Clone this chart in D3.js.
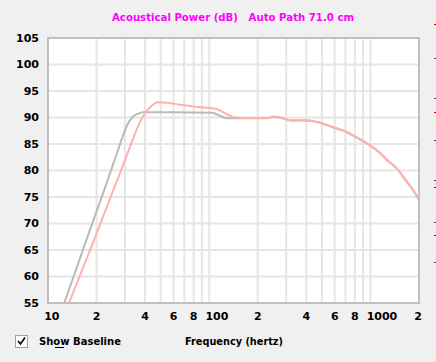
<!DOCTYPE html>
<html>
<head>
<meta charset="utf-8">
<script src="https://cdn.jsdelivr.net/npm/d3@7"></script>
<style>
  body { margin: 0; background: #f0f0f0; }
  svg { display: block; }
  text { font-family: "DejaVu Sans", sans-serif; font-weight: bold; font-size: 11px; }
</style>
</head>
<body>
<svg id="chart" width="436" height="362"></svg>
<script>
// measured curve (pink)
const powerFreq = [13.5, 15, 20, 25.4, 28.4, 32.3, 36, 40, 44, 48, 55, 66, 84, 108, 120, 131, 144, 180, 229, 249, 280, 320, 405, 480, 560, 700, 850, 993, 1130, 1268, 1460, 1680, 1850, 2000];
const powerDb   = [55, 58.5, 68.1, 76.3, 80, 84.5, 88.2, 90.8, 92.2, 92.9, 92.8, 92.4, 92.0, 91.7, 91.1, 90.5, 90.0, 89.9, 89.9, 90.2, 90.0, 89.5, 89.5, 89.1, 88.4, 87.4, 86.0, 84.8, 83.5, 82.0, 80.4, 77.9, 76.2, 74.5];

// baseline curve (gray)
const baseFreq = [12.6, 15, 20, 22.3, 24.6, 28, 30.7, 33.2, 36, 39, 60, 104, 113, 129, 160, 229, 249, 280, 320, 405, 480, 560, 700, 850, 993, 1130, 1268, 1460, 1680, 1850, 2000];
const baseDb   = [55, 61.5, 72.3, 76.3, 80, 85, 88.3, 90, 90.7, 91, 91, 90.9, 90.5, 89.85, 89.85, 89.85, 90.1, 89.9, 89.45, 89.45, 89.05, 88.35, 87.35, 85.95, 84.75, 83.45, 81.95, 80.35, 77.85, 76.15, 74.45];

const yTicks = [55, 60, 65, 70, 75, 80, 85, 90, 95, 100, 105];
const xGrid = [20, 30, 40, 50, 60, 70, 80, 90, 100, 200, 300, 400, 500, 600, 700, 800, 900, 1000];
const xLabels = [[10, "10"], [20, "2"], [40, "4"], [60, "6"], [80, "8"], [100, "100"], [200, "2"], [400, "4"], [600, "6"], [800, "8"], [1000, "1000"], [2000, "2"]];

const svg = d3.select('#chart');
const pLeft = 48, pRight = 419, pTop = 38, pBottom = 303;

const x = d3.scaleLog().domain([10, 2000]).range([pLeft, pRight]);
const y = d3.scaleLinear().domain([55, 105]).range([pBottom, pTop]);

// title
svg.append('text')
  .attr('x', 112).attr('y', 21)
  .attr('fill', '#ff00ff')
  .attr('xml:space', 'preserve')
  .attr('textLength', 242).attr('lengthAdjust', 'spacingAndGlyphs')
  .text('Acoustical Power (dB)   Auto Path 71.0 cm');

// plot background
svg.append('rect')
  .attr('x', pLeft).attr('y', pTop)
  .attr('width', pRight - pLeft).attr('height', pBottom - pTop)
  .attr('fill', '#fff');

// grid
svg.append('g').selectAll('line').data(yTicks.slice(1, -1)).enter().append('line')
  .attr('x1', pLeft).attr('x2', pRight)
  .attr('y1', d => y(d)).attr('y2', d => y(d))
  .attr('stroke', '#e6e6e6').attr('stroke-width', 2);

svg.append('g').selectAll('line').data(xGrid).enter().append('line')
  .attr('x1', d => x(d)).attr('x2', d => x(d))
  .attr('y1', pTop).attr('y2', pBottom)
  .attr('stroke', '#e6e6e6').attr('stroke-width', 2);

// curves
svg.append('clipPath').attr('id', 'clip').append('rect')
  .attr('x', pLeft).attr('y', pTop).attr('width', pRight - pLeft).attr('height', pBottom - pTop);

const line = d3.line().x(d => x(d[0])).y(d => y(d[1])).curve(d3.curveMonotoneX);

svg.append('path')
  .datum(baseFreq.map((f, i) => [f, baseDb[i]]))
  .attr('d', line)
  .attr('clip-path', 'url(#clip)')
  .attr('fill', 'none').attr('stroke', '#bababa').attr('stroke-width', 2);

svg.append('path')
  .datum(powerFreq.map((f, i) => [f, powerDb[i]]))
  .attr('d', line)
  .attr('clip-path', 'url(#clip)')
  .attr('fill', 'none').attr('stroke', '#ffb0b0').attr('stroke-width', 2);

// frame
svg.append('rect')
  .attr('x', pLeft).attr('y', pTop)
  .attr('width', pRight - pLeft).attr('height', pBottom - pTop)
  .attr('fill', 'none').attr('stroke', '#c0c0c0').attr('stroke-width', 2);

// y labels
svg.append('g').selectAll('text').data(yTicks).enter().append('text')
  .attr('x', 39).attr('y', d => y(d))
  .attr('dy', '0.36em')
  .attr('text-anchor', 'end')
  .attr('fill', '#000')
  .text(d => d);

// x labels: first digit sits on the grid line
svg.append('g').selectAll('text').data(xLabels).enter().append('text')
  .attr('x', d => x(d[0]) - 3.8 + (d[0] >= 2000 ? -1 : 0))
  .attr('y', 320)
  .attr('text-anchor', 'start')
  .attr('fill', '#000')
  .text(d => d[1]);

// checkbox
svg.append('rect').attr('x', 15.5).attr('y', 335.5).attr('width', 12).attr('height', 12)
  .attr('fill', '#fff').attr('stroke', '#a0a0a0');
svg.append('path').attr('d', 'M18,341 L20.5,344 L25,337.5')
  .attr('fill', 'none').attr('stroke', '#000').attr('stroke-width', 1.6);

svg.append('text').attr('x', 39).attr('y', 345).attr('fill', '#000')
  .attr('textLength', 82).attr('lengthAdjust', 'spacingAndGlyphs')
  .text('Show Baseline');
// underline on "w"
svg.append('line').attr('x1', 55).attr('x2', 64).attr('y1', 347.5).attr('y2', 347.5)
  .attr('stroke', '#000').attr('stroke-width', 1);

svg.append('text').attr('x', 185).attr('y', 345).attr('fill', '#000')
  .attr('textLength', 98).attr('lengthAdjust', 'spacingAndGlyphs')
  .text('Frequency (hertz)');

// neighbouring window edge marks
const edgeMarks = [[58, '#555'], [98, '#555'], [112, '#e00'], [140, '#555'], [180, '#555'], [187, '#e00'], [222, '#555'], [235, '#e00'], [262, '#555'], [24, '#e00']];
svg.append('g').selectAll('rect').data(edgeMarks).enter().append('rect')
  .attr('x', 434).attr('y', d => d[0]).attr('width', 2).attr('height', 1)
  .attr('fill', d => d[1]);
</script>
</body>
</html>
